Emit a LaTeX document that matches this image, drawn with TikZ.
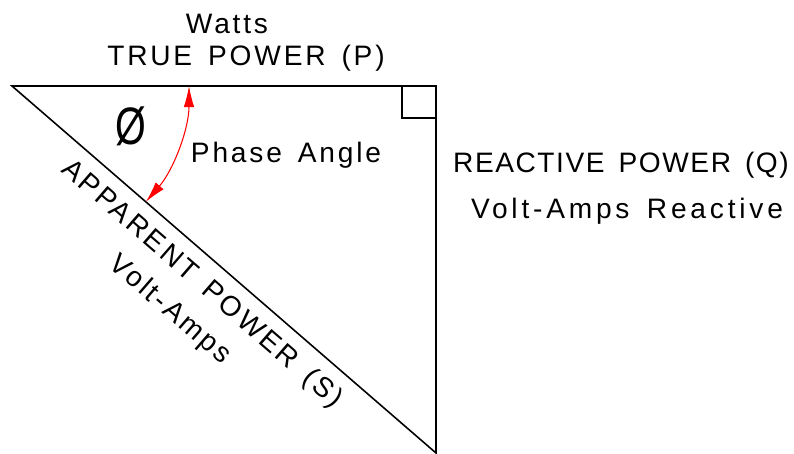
\documentclass[tikz,border=0pt]{standalone}
\usepackage{fontspec}
\setmainfont{Liberation Sans}[LetterSpace=10,WordSpace=1.5]
\usetikzlibrary{arrows.meta,calc}
\tikzstyle{tri}=[draw=black, line width=0.9pt]
\tikzstyle{phs}=[draw=red, line width=0.6pt,% angle marker, tips at both lines
{Latex[length=12pt,width=6pt]}-{Latex[length=12pt,width=6pt]}]
\tikzstyle{txt}=[font=\fontsize{16}{19}\selectfont, inner sep=0pt, anchor=base]
\tikzstyle{slp}=[font=\fontsize{16}{19}\selectfont, inner sep=0pt, sloped]

\begin{document}
\begin{tikzpicture}[x=0.02cm,y=0.02cm]
\useasboundingbox (0,0) rectangle (794,-453);
\coordinate (v1) at (12,-86);
\coordinate (v2) at (436,-86);
\coordinate (v3) at (436,-453);
\draw[tri] (v1) -- (v2) -- (v3) -- cycle;
\draw[tri] ($(v2)+(-34,0)$) |- ($(v2)+(0,-32)$);
\draw[phs] ($(v1)+(177,0)$) arc[start angle=0, end angle=-40.9, radius=3.54cm];
\node[txt] (t1) at (227,-33) {Watts};
\node[txt] (t2) at (246,-65) {TRUE POWER (P)};
\node[txt] (t3) at (286,-162) {Phase Angle};
\node[txt] (t4) at (621,-172) {\addfontfeature{LetterSpace=5.5}REACTIVE POWER (Q)};
\node[txt] (t5) at (627,-218) {\addfontfeature{LetterSpace=13.5}Volt-Amps Reactive};
\node[font=\fontsize{30}{36}\selectfont, inner sep=0pt, xscale=0.75, transform shape] (phi) at (131,-126) {Ø};
\path (v1) -- (v3)
  node[slp, pos=0.488, below=7pt] (t6) {APPARENT POWER (S)}
  node[slp, pos=0.474, below=30pt] (t7) {Volt-Amps};
\end{tikzpicture}
\end{document}
